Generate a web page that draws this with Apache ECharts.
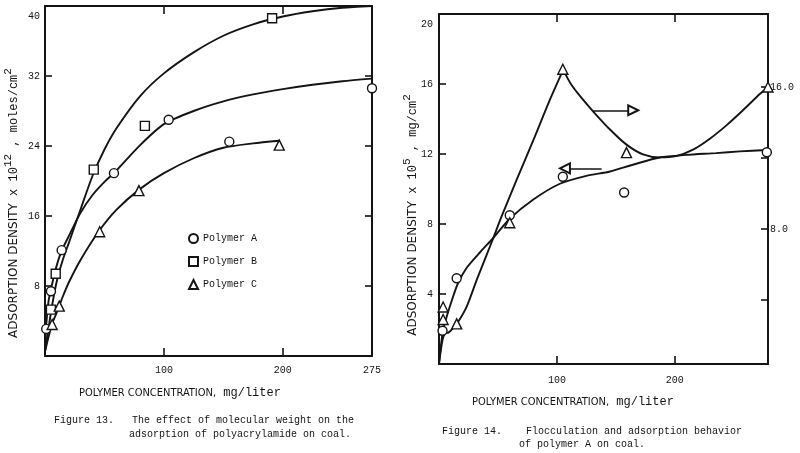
<!DOCTYPE html>
<html><head><meta charset="utf-8">
<script src="https://cdn.jsdelivr.net/npm/echarts@6/dist/echarts.min.js"></script>
<style>html,body{margin:0;padding:0;background:#fff}#c{width:800px;height:453px}</style>
</head><body><div id="c"></div>
<script>
// ---------- Figure 13 (left) ----------
const polyA_x = [1, 5, 14, 58, 104, 155, 275];
const polyA_y = [3.1, 7.4, 12.1, 20.9, 27.0, 24.5, 30.6];
const polyB_x = [5, 9, 41, 84, 191];
const polyB_y = [5.3, 9.4, 21.3, 26.3, 38.6];
const polyC_x = [6, 12, 46, 79, 197];
const polyC_y = [3.6, 5.7, 14.2, 18.9, 24.1];

const curveB_x = [0, 3, 6, 10, 15, 20, 30, 40, 50, 60, 80, 100, 125, 150, 175, 200, 225, 250, 275];
const curveB_y = [0.5, 3.2, 5.8, 8.6, 11.0, 12.9, 16.8, 20.6, 23.6, 26.0, 29.7, 32.3, 34.7, 36.6, 37.9, 38.8, 39.4, 39.8, 40.0];
const curveA_x = [0, 1, 3, 5, 8, 12, 16, 20, 30, 40, 50, 58, 80, 100, 125, 150, 175, 200, 225, 250, 275];
const curveA_y = [0.5, 3.5, 6.3, 7.6, 9.4, 11.3, 12.6, 13.7, 16.4, 18.4, 19.9, 20.9, 24.1, 26.5, 28.0, 29.1, 29.9, 30.5, 31.0, 31.4, 31.7];
const curveC_x = [0, 3, 6, 10, 15, 20, 30, 45, 60, 80, 100, 125, 150, 175, 197];
const curveC_y = [0.5, 2.2, 3.7, 5.0, 6.8, 8.4, 11.0, 14.2, 16.7, 19.1, 20.9, 22.6, 23.8, 24.3, 24.6];

const fig13_xTicks = [100, 200];
const fig13_xLabels = [100, 200, 275];
const fig13_yTicks = [8, 16, 24, 32];
const fig13_yLabels = [8, 16, 24, 32, 40];

// ---------- Figure 14 (right) ----------
const adsPts_x = [3, 15, 60, 105, 157, 278];
const adsPts_y = [1.9, 4.9, 8.5, 10.7, 9.8, 12.1];
const flocPts_x = [3.5, 3.5, 15, 60, 105, 159, 279];
const flocPts_y = [3.6, 2.9, 2.65, 8.35, 17.0, 12.3, 16.0];

const adsCurve_x = [0, 3, 6.5, 11, 16, 23.5, 35, 46, 60, 80, 102.5, 125, 145, 165, 187, 210, 235, 255, 278];
const adsCurve_y = [0, 1.75, 2.7, 3.66, 4.6, 5.5, 6.4, 7.2, 8.3, 9.4, 10.3, 10.75, 11.0, 11.4, 11.8, 11.95, 12.05, 12.15, 12.23];
const flocCurve_x = [0, 3, 5, 8, 12, 16.4, 23.5, 32, 40.4, 46, 53, 65.8, 80, 94, 105.3, 112, 120, 131, 145, 159, 173, 187, 201, 215, 230, 244, 258, 272, 279];
const flocCurve_y = [0.43, 1.75, 2.12, 2.16, 2.41, 2.78, 3.62, 5.13, 6.54, 7.48, 8.69, 10.76, 13.0, 15.27, 16.96, 16.15, 15.45, 14.6, 13.6, 12.75, 12.2, 12.03, 12.1, 12.45, 13.1, 13.85, 14.7, 15.6, 16.0];

const fig14_xTicks = [100, 200];
const fig14_yTicks = [4, 8, 12, 16];
const fig14_yLabels = [4, 8, 12, 16, 20];
const fig14_rTicks = [4, 8, 12, 16];
const fig14_rLabels = [8, 16];

// arrows (data units, left axis of fig 14)
const arrowRight = [[130.8, 14.5], [164.7, 14.5]];
const arrowLeft = [[137.9, 11.18], [106.8, 11.18]];

const zip = (xs, ys) => xs.map((x, i) => [x, ys[i]]);
const INK = '#141414';
const MONO = "'Liberation Mono','DejaVu Sans Mono',monospace";
const NARROW = "'Liberation Sans Narrow','Arial Narrow','DejaVu Sans Condensed',sans-serif";

// split flocculation curve at its peak (sharp cusp in the original)
const flocAll = zip(flocCurve_x, flocCurve_y);
const peakIdx = flocCurve_y.indexOf(Math.max.apply(null, flocCurve_y));
const flocRise = flocAll.slice(0, peakIdx + 1);
const flocFall = flocAll.slice(peakIdx);

function xAx(grid, min, max, pos, ticks, labels, margin) {
  return {
    type: 'value', gridIndex: grid, min: min, max: max, position: pos,
    splitLine: { show: false },
    axisLine: { show: true, onZero: false, lineStyle: { color: INK, width: 2 } },
    axisTick: { show: true, inside: true, length: 8, customValues: ticks, lineStyle: { color: INK, width: 1.6 } },
    axisLabel: labels ? { show: true, customValues: labels, margin: margin, color: INK, fontFamily: MONO, fontSize: 10 } : { show: false }
  };
}
function yAx(grid, min, max, pos, ticks, labels, margin, fmt) {
  const lab = labels ? { show: true, customValues: labels, margin: margin, color: INK, fontFamily: MONO, fontSize: 10,
      formatter: fmt, rich: { d: { fontFamily: MONO, fontSize: 10, color: INK, padding: [20, 0, 0, 0] } } } : { show: false };
  return {
    type: 'value', gridIndex: grid, min: min, max: max, position: pos,
    splitLine: { show: false },
    axisLine: { show: true, onZero: false, lineStyle: { color: INK, width: 2 } },
    axisTick: { show: true, inside: true, length: 7, customValues: ticks, lineStyle: { color: INK, width: 1.6 } },
    axisLabel: lab
  };
}
function scatter(name, xi, yi, xs, ys, symbol, size) {
  return { name: name, type: 'scatter', xAxisIndex: xi, yAxisIndex: yi, data: zip(xs, ys),
    symbol: symbol, symbolSize: size, clip: false, z: 5,
    itemStyle: { color: '#fff', borderColor: INK, borderWidth: 1.4, opacity: 1 } };
}
function curve(name, xi, yi, data, extra) {
  return Object.assign({ name: name, type: 'line', xAxisIndex: xi, yAxisIndex: yi, data: data,
    smooth: 0.25, showSymbol: false, symbol: 'none', clip: false, z: 3,
    lineStyle: { color: INK, width: 1.9 } }, extra || {});
}

const yTitleRich = {
  a: { fontFamily: "'DejaVu Sans',sans-serif", fontSize: 12, fill: INK, lineHeight: 22 },
  b: { fontFamily: MONO, fontSize: 12, fill: INK, lineHeight: 22 },
  s: { fontFamily: MONO, fontSize: 11, fill: INK, lineHeight: 11, verticalAlign: 'top' }
};
const xTitleRich = {
  a: { fontFamily: NARROW, fontSize: 11, fill: INK },
  b: { fontFamily: MONO, fontSize: 12, fill: INK }
};

const option = {
  backgroundColor: '#fff',
  animation: false,
  grid: [
    { left: 45, top: 6, width: 327, height: 350 },
    { left: 439, top: 14, width: 329, height: 350 }
  ],
  xAxis: [
    xAx(0, 0, 275, 'bottom', fig13_xTicks, fig13_xLabels, 9),
    xAx(0, 0, 275, 'top', fig13_xTicks, null),
    xAx(1, 0, 279, 'bottom', fig14_xTicks, fig14_xTicks, 11),
    xAx(1, 0, 279, 'top', fig14_xTicks, null)
  ],
  yAxis: [
    yAx(0, 0, 40, 'left', fig13_yTicks, fig13_yLabels, 5, v => v === 40 ? '{d|40}' : String(v)),
    yAx(0, 0, 40, 'right', fig13_yTicks, null),
    yAx(1, 0, 20, 'left', fig14_yTicks, fig14_yLabels, 6, v => v === 20 ? '{d|20}' : String(v)),
    yAx(1, 0.39, 20.11, 'right', fig14_rTicks, fig14_rLabels, 2, v => v.toFixed(1))
  ],
  legend: {
    data: ['Polymer A', 'Polymer B', 'Polymer C'],
    orient: 'vertical', left: 183, top: 228,
    itemWidth: 9, itemHeight: 9, itemGap: 12,
    selectedMode: false,
    textStyle: { fontFamily: MONO, fontSize: 10, color: INK }
  },
  title: [
    { text: 'Figure 13.   The effect of molecular weight on the', left: 54, top: 415, padding: 0,
      textStyle: { fontFamily: MONO, fontSize: 10, fontWeight: 'normal', color: INK } },
    { text: 'adsorption of polyacrylamide on coal.', left: 129, top: 429, padding: 0,
      textStyle: { fontFamily: MONO, fontSize: 10, fontWeight: 'normal', color: INK } },
    { text: 'Figure 14.    Flocculation and adsorption behavior', left: 442, top: 426, padding: 0,
      textStyle: { fontFamily: MONO, fontSize: 10, fontWeight: 'normal', color: INK } },
    { text: 'of polymer A on coal.', left: 519, top: 439, padding: 0,
      textStyle: { fontFamily: MONO, fontSize: 10, fontWeight: 'normal', color: INK } }
  ],
  graphic: [
    { type: 'text', x: 14, y: 203, rotation: Math.PI / 2, silent: true,
      style: { text: '{a|ADSORPTION DENSITY}{b| x 10}{s|12}{b| , moles/cm}{s|2}', rich: yTitleRich,
        align: 'center', verticalAlign: 'middle', textAlign: 'center', textVerticalAlign: 'middle' } },
    { type: 'text', x: 413, y: 215, rotation: Math.PI / 2, silent: true,
      style: { text: '{a|ADSORPTION DENSITY}{b| x 10}{s|5}{b| , mg/cm}{s|2}', rich: yTitleRich,
        align: 'center', verticalAlign: 'middle', textAlign: 'center', textVerticalAlign: 'middle' } },
    { type: 'text', x: 180, y: 393, silent: true,
      style: { text: '{a|POLYMER CONCENTRATION,}{b| mg/liter}', rich: xTitleRich,
        align: 'center', verticalAlign: 'middle', textAlign: 'center', textVerticalAlign: 'middle' } },
    { type: 'text', x: 573, y: 402, silent: true,
      style: { text: '{a|POLYMER CONCENTRATION,}{b| mg/liter}', rich: xTitleRich,
        align: 'center', verticalAlign: 'middle', textAlign: 'center', textVerticalAlign: 'middle' } }
  ],
  series: [
    curve('curveA', 0, 0, zip(curveA_x, curveA_y)),
    curve('curveB', 0, 0, zip(curveB_x, curveB_y)),
    curve('curveC', 0, 0, zip(curveC_x, curveC_y)),
    scatter('Polymer A', 0, 0, polyA_x, polyA_y, 'circle', 9),
    scatter('Polymer B', 0, 0, polyB_x, polyB_y, 'rect', 9),
    scatter('Polymer C', 0, 0, polyC_x, polyC_y, 'triangle', 10),

    curve('adsorption curve', 2, 2, zip(adsCurve_x, adsCurve_y), {
      markLine: {
        silent: true, animation: false,
        symbol: ['none', 'emptyTriangle'], symbolSize: [10, 10],
        label: { show: false },
        emphasis: { disabled: true },
        lineStyle: { color: INK, width: 1.6, type: 'solid' },
        data: [
          [{ coord: arrowRight[0] }, { coord: arrowRight[1] }],
          [{ coord: arrowLeft[0] }, { coord: arrowLeft[1] }]
        ]
      }
    }),
    curve('flocculation rise', 2, 3, flocRise),
    curve('flocculation fall', 2, 3, flocFall),
    scatter('Adsorption', 2, 2, adsPts_x, adsPts_y, 'circle', 9),
    scatter('Flocculation', 2, 3, flocPts_x, flocPts_y, 'triangle', 10)
  ]
};

const chart = echarts.init(document.getElementById('c'), null, { renderer: 'canvas' });
chart.setOption(option);
</script>
</body></html>
